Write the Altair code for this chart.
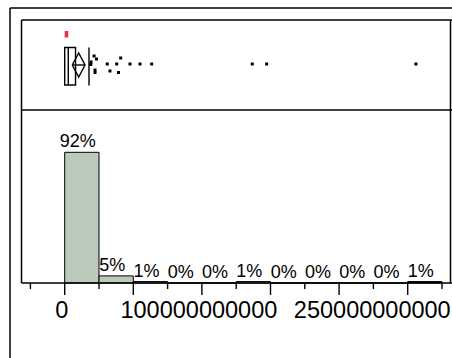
import altair as alt
import pandas as pd

# Histogram bins (width 25e9) and the share of rows in each bin, in percent
bin_width = 25e9
bin_start = [0, 25e9, 50e9, 75e9, 100e9, 125e9, 150e9, 175e9, 200e9, 225e9, 250e9]
bin_pct = [92, 5, 1, 0, 0, 1, 0, 0, 0, 0, 1]
bin_selected = [0, 0, 0, 0, 0, 0, 0, 0, 0, 0, 1]

# Outlier values (in units of 1e9) and their vertical jitter in the box-plot strip
outlier_vals = [21.4, 23.2, 19.2, 19.0, 22.1, 22.1, 31.0, 33.0, 37.9, 39.2,
                40.8, 47.6, 54.9, 63.4, 136.7, 147.2, 256.0]
outlier_jitter = [-9, -6, -3, -0.5, 5, 7.5, -1, 6, -1, 7.5,
                  -7, -1, -1, -1, -1, -1, -1]

# Box plot summary statistics
q1, median, q3 = 0.0, 2.6e9, 7.9e9
mean, ci_lo, ci_hi = 10.2e9, 5.5e9, 14.8e9
whisker_hi = 17.7e9
short_lo, short_hi = 0.0, 2.6e9

# Axis ticks and labels
major_ticks = [0, 50e9, 100e9, 150e9, 200e9, 250e9]
minor_ticks = [-25e9, 25e9, 75e9, 125e9, 175e9, 225e9, 275e9]
label_values = [0, 100e9, 250e9]

FONT = "Liberation Sans"
GREEN = "#bacbbc"

xscale = alt.Scale(domain=[-47.16e9, 282.29e9], nice=False, zero=False)
xaxis = alt.Axis(values=label_values, format="d", ticks=False, tickSize=0,
                 domain=False, grid=False, title=None, labelFont=FONT,
                 labelFontSize=23.5, labelColor="black", labelPadding=15,
                 labelOffset=-3.5, labelFlush=50, labelFlushOffset=46,
                 labelOverlap=False)

hist = pd.DataFrame({"start": bin_start, "pct": bin_pct, "sel": bin_selected})
hist["end"] = hist["start"] + bin_width
hist["mid"] = hist["start"] + bin_width / 2
hist["label"] = hist["pct"].astype(str) + "%"

yhist = alt.Scale(domain=[0, 92], range=[283, 152.3], nice=False)
ybox = alt.Scale(domain=[-45, 45], range=[20, 110], nice=False)

one = pd.DataFrame({"k": [0]})

def frame_line(x, x2, y, y2, w=1.5):
    return alt.Chart(one).mark_rule(color="black", strokeWidth=w).encode(
        x=alt.value(x), x2=alt.value(x2), y=alt.value(y), y2=alt.value(y2))

frames = [
    frame_line(10, 452, 8, 8),       # outer top
    frame_line(10, 10, 8, 358),      # outer left
    frame_line(21.5, 452, 20, 20),   # inner top
    frame_line(21.5, 21.5, 20, 283), # inner left
    frame_line(450.5, 450.5, 20, 283),  # inner right
    frame_line(21.5, 452, 110, 110), # divider between box plot and histogram
]

bars = alt.Chart(hist).mark_rect(stroke="black", strokeWidth=1).encode(
    x=alt.X("start:Q", scale=xscale, axis=xaxis),
    x2="end:Q",
    y=alt.Y("pct:Q", scale=yhist, axis=None),
    y2=alt.datum(0),
    fill=alt.condition("datum.sel == 1", alt.value("black"), alt.value(GREEN)),
)

pct_labels = alt.Chart(hist).mark_text(
    font=FONT, fontSize=18, color="black", dx=-4, dy=-5, baseline="alphabetic"
).encode(
    x=alt.X("mid:Q", scale=xscale, axis=xaxis),
    y=alt.Y("pct:Q", scale=yhist, axis=None),
    text="label:N",
)

baseline = frame_line(21.5, 452, 283, 283)

major = alt.Chart(pd.DataFrame({"v": major_ticks})).mark_rule(
    color="black", strokeWidth=1.4).encode(
    x=alt.X("v:Q", scale=xscale, axis=xaxis), y=alt.value(283), y2=alt.value(295))
minor = alt.Chart(pd.DataFrame({"v": minor_ticks})).mark_rule(
    color="black", strokeWidth=1.4).encode(
    x=alt.X("v:Q", scale=xscale, axis=xaxis), y=alt.value(283), y2=alt.value(289))

# Box plot strip
stats = pd.DataFrame({"q1": [q1], "median": [median], "q3": [q3], "ci_lo": [ci_lo],
                      "ci_hi": [ci_hi], "whisker_hi": [whisker_hi],
                      "short_lo": [short_lo], "short_hi": [short_hi]})

short_half = alt.Chart(stats).mark_rect(color="#ec2d48").encode(
    x=alt.X("short_lo:Q", scale=xscale, axis=xaxis), x2="short_hi:Q",
    y=alt.value(31), y2=alt.value(37.5))

box = alt.Chart(stats).mark_rect(fill="white", stroke="black", strokeWidth=1.4).encode(
    x=alt.X("q1:Q", scale=xscale, axis=xaxis), x2="q3:Q",
    y=alt.value(47.5), y2=alt.value(85))

median_line = alt.Chart(stats).mark_rule(color="black", strokeWidth=1.4).encode(
    x=alt.X("median:Q", scale=xscale, axis=xaxis), y=alt.value(47.5), y2=alt.value(85))

diamond_df = pd.DataFrame({
    "x": [ci_lo, mean, ci_hi, mean, ci_lo],
    "off": [0, -12, 0, 12, 0],
    "order": [0, 1, 2, 3, 4],
})
diamond = alt.Chart(diamond_df).mark_line(color="black", strokeWidth=1.4).encode(
    x=alt.X("x:Q", scale=xscale, axis=xaxis),
    y=alt.Y("off:Q", scale=ybox, axis=None),
    order="order:Q",
)

diamond_mid = alt.Chart(stats).mark_rule(color="black", strokeWidth=1.4).encode(
    x=alt.X("ci_lo:Q", scale=xscale, axis=xaxis), x2="ci_hi:Q", y=alt.value(65))

whisker_end = alt.Chart(stats).mark_rule(color="black", strokeWidth=1.4).encode(
    x=alt.X("whisker_hi:Q", scale=xscale, axis=xaxis), y=alt.value(47.5), y2=alt.value(85.5))

outliers_df = pd.DataFrame({"v": [v * 1e9 for v in outlier_vals], "jit": outlier_jitter})
outliers = alt.Chart(outliers_df).mark_point(
    shape="square", filled=True, color="black", size=9, opacity=1).encode(
    x=alt.X("v:Q", scale=xscale, axis=xaxis),
    y=alt.Y("jit:Q", scale=ybox, axis=None),
)

chart = alt.layer(
    *frames, bars, pct_labels, baseline, major, minor,
    short_half, box, median_line, diamond, diamond_mid, whisker_end, outliers,
).resolve_scale(y="independent").properties(
    width=452, height=283,
    padding={"left": 0, "top": 0, "right": 0, "bottom": 75},
    autosize=alt.AutoSizeParams(type="none"),
    background="white",
).configure_view(stroke=None)

chart.save("out.html", embed_options={"renderer": "svg", "actions": False})
